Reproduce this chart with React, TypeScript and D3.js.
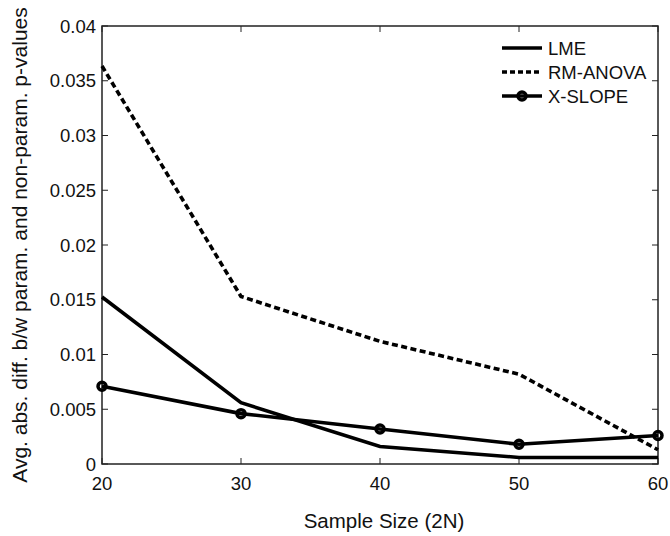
import React from "react";
import * as d3 from "d3";

const sampleSizes = [20, 30, 40, 50, 60];
const lme = [0.01525, 0.0056, 0.0016, 0.0006, 0.0006];
const rmAnova = [0.03635, 0.0153, 0.0112, 0.0082, 0.0013];
const xSlope = [0.0071, 0.0046, 0.0032, 0.0018, 0.0026];
const yTicks = [0, 0.005, 0.01, 0.015, 0.02, 0.025, 0.03, 0.035, 0.04];
const yTickLabels = ["0", "0.005", "0.01", "0.015", "0.02", "0.025", "0.03", "0.035", "0.04"];
const xTicks = [20, 30, 40, 50, 60];
const seriesNames = ["LME", "RM-ANOVA", "X-SLOPE"];

const W = 670, H = 536;
const M = { left: 102, right: 658, top: 26, bottom: 464 };
const FONT = "'Liberation Sans', Arial, Helvetica, sans-serif";

export default function App() {
  const x = d3.scaleLinear().domain([20, 60]).range([M.left, M.right]);
  const y = d3.scaleLinear().domain([0, 0.04]).range([M.bottom, M.top]);
  const line = d3.line<number>().x((_, i) => x(sampleSizes[i])).y((d) => y(d));
  const sw = 3.6;
  const tick = 6;
  return (
    <svg width={W} height={H} style={{ position: "absolute", left: 0, top: 0 }} fontFamily={FONT}>
      <rect width={W} height={H} fill="#fff" />
      {/* box */}
      <rect x={M.left} y={M.top} width={M.right - M.left} height={M.bottom - M.top} fill="none" stroke="#222" strokeWidth={1.5} />
      {/* y ticks */}
      {yTicks.map((t, i) => (
        <g key={"y" + i}>
          <line x1={M.left} x2={M.left + tick} y1={y(t)} y2={y(t)} stroke="#222" strokeWidth={1} />
          <line x1={M.right} x2={M.right - tick} y1={y(t)} y2={y(t)} stroke="#222" strokeWidth={1} />
          <text x={M.left - 6} y={y(t)} dy="0.36em" textAnchor="end" fontSize={18.5} fill="#111">
            {yTickLabels[i]}
          </text>
        </g>
      ))}
      {/* x ticks */}
      {xTicks.map((t, i) => (
        <g key={"x" + i}>
          <line x1={x(t)} x2={x(t)} y1={M.bottom} y2={M.bottom - tick} stroke="#222" strokeWidth={1} />
          <line x1={x(t)} x2={x(t)} y1={M.top} y2={M.top + tick} stroke="#222" strokeWidth={1} />
          <text x={x(t)} y={M.bottom + 26} textAnchor="middle" fontSize={18.5} fill="#111">
            {t}
          </text>
        </g>
      ))}
      {/* series */}
      <path d={line(rmAnova) || ""} fill="none" stroke="#000" strokeWidth={sw} strokeDasharray="6,3.5" />
      <path d={line(lme) || ""} fill="none" stroke="#000" strokeWidth={sw} />
      <path d={line(xSlope) || ""} fill="none" stroke="#000" strokeWidth={sw} />
      {xSlope.map((v, i) => (
        <circle key={"m" + i} cx={x(sampleSizes[i])} cy={y(v)} r={4} fill="none" stroke="#000" strokeWidth={3.5} />
      ))}
      {/* legend */}
      {seriesNames.map((n, i) => {
        const ly = 48 + i * 24;
        return (
          <g key={"l" + i}>
            <line x1={502} x2={542} y1={ly} y2={ly} stroke="#000" strokeWidth={sw} strokeDasharray={i === 1 ? "5,3" : undefined} />
            {i === 2 && <circle cx={522} cy={ly} r={4} fill="none" stroke="#000" strokeWidth={3.5} />}
            <text x={548} y={ly} dy="0.36em" fontSize={18.5} fill="#111">{n}</text>
          </g>
        );
      })}
      {/* axis labels */}
      <text x={384} y={528} textAnchor="middle" fontSize={20.5} fill="#111">
        Sample Size (2N)
      </text>
      <text transform={`translate(27, ${(M.top + M.bottom) / 2}) rotate(-90)`} textAnchor="middle" fontSize={21} fill="#111">
        Avg. abs. diff. b/w param. and non-param. p-values
      </text>
    </svg>
  );
}
